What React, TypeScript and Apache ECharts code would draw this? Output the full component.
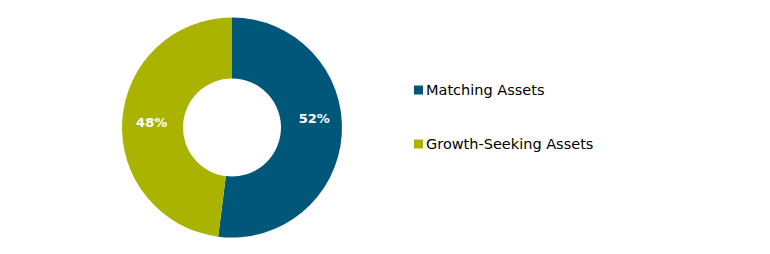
import React, { useEffect, useRef } from "react";
import * as echarts from "echarts";

const categories = ["Matching Assets", "Growth-Seeking Assets"];
const values = [52, 48];
const colors = ["#00577A", "#A9B300"];
const labelOffsets: [number, number][] = [[0, -14], [2, 0]];

export default function App() {
  const ref = useRef<HTMLDivElement>(null);
  useEffect(() => {
    const chart = echarts.init(ref.current!, null, { renderer: "svg" });
    chart.setOption({
      animation: false,
      backgroundColor: "#ffffff",
      color: colors,
      legend: {
        orient: "vertical",
        left: 409,
        top: 77,
        itemWidth: 9,
        itemHeight: 9,
        itemGap: 38,
        icon: "rect",
        textStyle: { fontFamily: "DejaVu Sans", fontSize: 14.5, color: "#000", lineHeight: 16, padding: [0, 0, 0, -2] },
        data: categories,
      },
      series: [
        {
          type: "pie",
          center: [232, 127.5],
          radius: [49, 110],
          startAngle: 90,
          clockwise: true,
          label: {
            position: "inside",
            formatter: "{c}%",
            color: "#fff",
            fontFamily: "DejaVu Sans",
            fontWeight: "bold",
            fontSize: 13,
          },
          labelLine: { show: false },
          emphasis: { disabled: true },
          data: categories.map((name, i) => ({
            name,
            value: values[i],
            label: { offset: labelOffsets[i] },
          })),
        },
      ],
    });
    return () => chart.dispose();
  }, []);
  return <div ref={ref} style={{ position: "fixed", left: 0, top: 0, width: 770, height: 254 }} />;
}
